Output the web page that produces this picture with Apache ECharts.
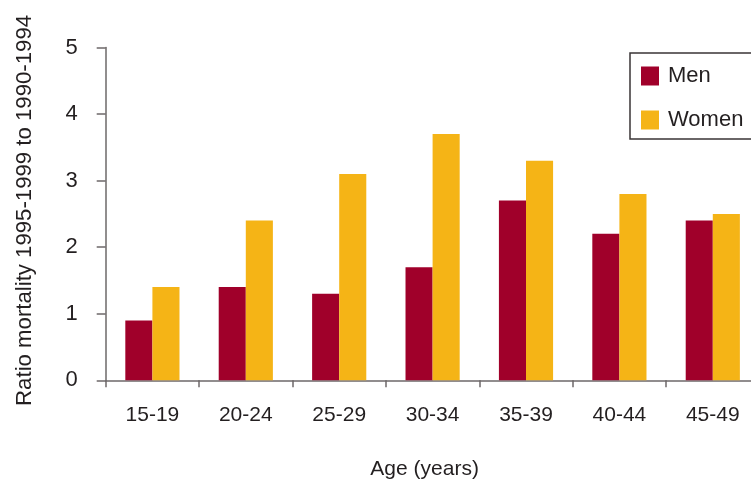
<!DOCTYPE html>
<html>
<head>
<meta charset="utf-8">
<script src="https://cdn.jsdelivr.net/npm/echarts@6/dist/echarts.min.js"></script>
<style>html,body{margin:0;padding:0;background:#fff}#c{width:751px;height:479px}</style>
</head>
<body>
<div id="c"></div>
<script>
var categories = ['15-19', '20-24', '25-29', '30-34', '35-39', '40-44', '45-49'];
var men = [0.9, 1.4, 1.3, 1.7, 2.7, 2.2, 2.4];
var women = [1.4, 2.4, 3.1, 3.7, 3.3, 2.8, 2.5];
var yTicks = [0, 1, 2, 3, 4, 5];

var FONT = '"Liberation Sans", Arial, sans-serif';
var TXT = '#231f20';
var AX = '#6d6869';

var chart = echarts.init(document.getElementById('c'), null, {renderer: 'canvas'});
chart.setOption({
  animation: false,
  textStyle: {fontFamily: FONT, color: TXT},
  grid: {left: 105.7, top: 47.5, bottom: 98.7, right: -8.5, containLabel: false, outerBoundsMode: 'none'},
  legend: {
    orient: 'vertical',
    left: 630, top: 53,
    padding: [12, 60, 8, 11],
    itemGap: 22,
    itemWidth: 18, itemHeight: 19,
    borderColor: '#3a3536', borderWidth: 1.5,
    icon: 'rect',
    textStyle: {fontFamily: FONT, fontSize: 22, color: TXT, padding: [0, 0, 0, 4]},
    data: ['Men', 'Women']
  },
  xAxis: {
    type: 'category',
    data: categories,
    name: 'Age (years)',
    nameLocation: 'middle',
    nameGap: 78,
    nameTextStyle: {fontFamily: FONT, fontSize: 21, color: TXT, padding: [0, 16, 0, 0]},
    axisLine: {lineStyle: {color: AX, width: 1.5}},
    axisTick: {show: true, length: 7, alignWithLabel: false, lineStyle: {color: AX, width: 1.5}},
    axisLabel: {fontFamily: FONT, fontSize: 21, color: TXT, margin: 24}
  },
  yAxis: {
    type: 'value',
    min: yTicks[0], max: yTicks[yTicks.length - 1], interval: 1,
    name: 'Ratio mortality 1995-1999 to 1990-1994',
    nameLocation: 'middle',
    nameGap: 70,
    nameTextStyle: {fontFamily: FONT, fontSize: 22.2, color: TXT, padding: [0, 0, 0, 7]},
    axisLine: {show: true, lineStyle: {color: AX, width: 1.5}},
    axisTick: {show: true, length: 9, lineStyle: {color: AX, width: 1.5}},
    splitLine: {show: false},
    axisLabel: {fontFamily: FONT, fontSize: 22, color: TXT, margin: 28}
  },
  series: [
    {name: 'Men', type: 'bar', data: men, itemStyle: {color: '#a0002a'}, barGap: '0%', barCategoryGap: '42%'},
    {name: 'Women', type: 'bar', data: women, itemStyle: {color: '#f5b416'}, barGap: '0%', barCategoryGap: '42%'}
  ]
});
</script>
</body>
</html>
